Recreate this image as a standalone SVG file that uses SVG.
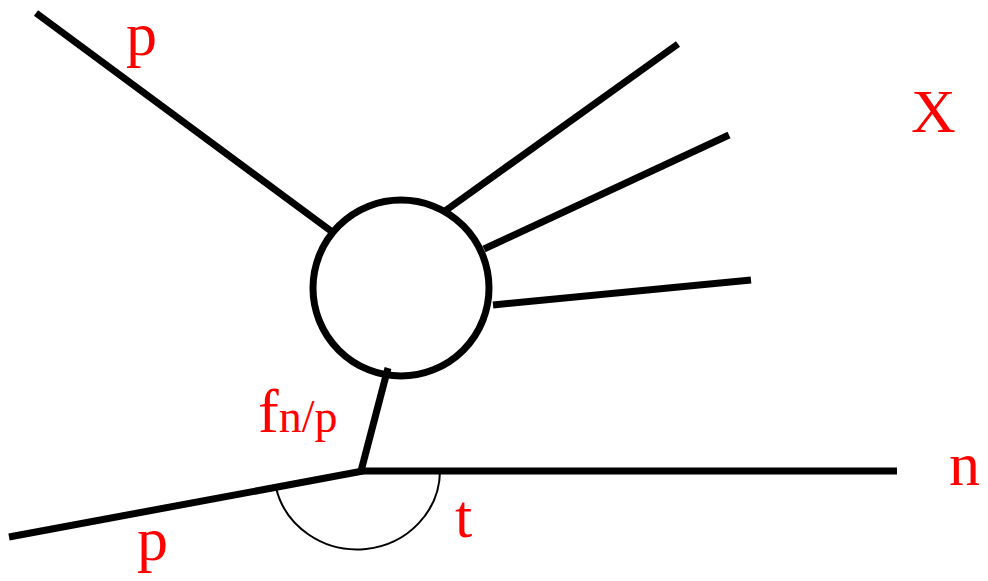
<svg xmlns="http://www.w3.org/2000/svg" width="988" height="581" viewBox="0 0 988 581">
<style>
.l{stroke:#000;stroke-width:7;fill:none}
.a{stroke:#000;stroke-width:2;fill:none}
.t{font-family:"Liberation Serif","Times New Roman",serif;fill:#f00;font-size:62px}
.s{font-size:46px}
</style>
<rect width="988" height="581" fill="#fff"/>
<g id="connectors">
<line class="l" x1="36" y1="13" x2="331" y2="231"/>
<line class="l" x1="445" y1="211" x2="678" y2="44"/>
<line class="l" x1="484" y1="249" x2="729" y2="135"/>
<line class="l" x1="493" y1="305" x2="751" y2="280"/>
<line class="l" x1="388" y1="368" x2="361" y2="471"/>
<line class="l" x1="361" y1="471" x2="897" y2="471"/>
<line class="l" x1="9" y1="537" x2="363" y2="471"/>
<path class="a" d="M 276.1 488 A 83 79 0 0 0 440 471"/>
</g>
<g id="blob"><circle class="l" cx="401" cy="288" r="88"/></g>
<g id="labels">
<text class="t" x="126" y="55">p</text>
<text class="t" x="911" y="132">X</text>
<text class="t" x="949" y="485">n</text>
<text class="t" x="137" y="560">p</text>
<text class="t" x="455" y="537">t</text>
<text class="t" x="258" y="432">f<tspan class="s">n/p</tspan></text>
</g>
</svg>
